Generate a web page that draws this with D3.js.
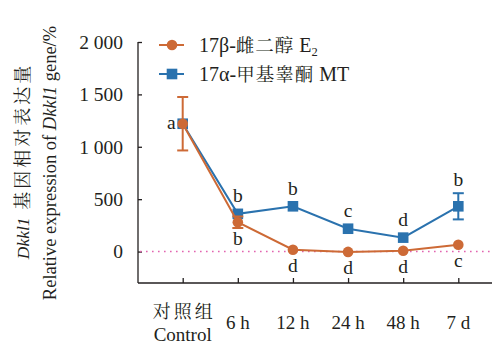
<!DOCTYPE html>
<html>
<head>
<meta charset="utf-8">
<script src="https://cdn.jsdelivr.net/npm/d3@7"></script>
<style>
  html, body { margin: 0; padding: 0; background: #fff; }
  svg { display: block; }
</style>
</head>
<body>
<svg id="chart" width="492" height="346"></svg>
<script>
// Time points after treatment
const categories = ["Control", "6 h", "12 h", "24 h", "48 h", "7 d"];
const yTicks = [0, 500, 1000, 1500, 2000];
const yTickLabels = ["0", "500", "1 000", "1 500", "2 000"];

// 17β-estradiol (E2) group: mean, error, significance letters
const e2Values = [1220, 280, 18, -3, 8, 65];
const e2Errors = [255, 55, 0, 0, 0, 0];
const e2Letters = ["a", "b", "d", "d", "d", "c"];

// 17α-methyltestosterone (MT) group
const mtValues = [1220, 360, 432, 218, 133, 432];
const mtErrors = [0, 0, 0, 0, 0, 125];
const mtLetters = ["", "b", "b", "c", "d", "b"];

const orange = "#cd6a36";
const blue = "#2a72ae";
const ink = "#231f20";
const LATIN = "'Liberation Serif', 'DejaVu Serif', serif";
const CJK = "'Noto Serif CJK SC', 'Noto Sans CJK SC', serif";

const svg = d3.select("#chart");
const plotLeft = 138, plotRight = 492, plotTop = 42, plotBottom = 283;

const x = d3.scalePoint().domain(categories).range([182.7, 458.3]);
const y = d3.scaleLinear().domain([-300, 2000]).range([plotBottom, plotTop]);

function txt(parent, size, family) {
  return parent.append("text").style("font-family", family || LATIN)
    .style("font-size", size + "px").style("fill", ink);
}

// Y axis with inward ticks
const yAxis = svg.append("g").attr("transform", `translate(${plotLeft},0)`)
  .call(d3.axisLeft(y).tickValues(yTicks).tickSizeInner(-4).tickSizeOuter(0).tickPadding(15)
    .tickFormat((d, i) => yTickLabels[i]));
yAxis.select(".domain").attr("d", `M0,${plotTop}V${plotBottom}`).attr("stroke", ink).attr("stroke-width", 1.3);
yAxis.selectAll(".tick line").attr("stroke", ink).attr("stroke-width", 1.3);
yAxis.selectAll(".tick text").style("font-family", LATIN).style("font-size", "19.5px").style("fill", ink);

// X axis with inward ticks
const xAxis = svg.append("g").attr("transform", `translate(0,${plotBottom})`)
  .call(d3.axisBottom(x).tickSizeInner(-5).tickSizeOuter(0).tickFormat(""));
xAxis.select(".domain").attr("d", `M${plotLeft},0H${plotRight}`).attr("stroke", ink).attr("stroke-width", 1.3);
xAxis.selectAll(".tick line").attr("stroke", ink).attr("stroke-width", 1.3);

// X tick labels
categories.forEach((c, i) => {
  if (i === 0) {
    txt(svg, 18, CJK).attr("x", x(c) + 1.5).attr("y", 318).attr("text-anchor", "middle")
      .style("letter-spacing", "3px").text("对照组");
    txt(svg, 19).attr("x", x(c)).attr("y", 341).attr("text-anchor", "middle").text("Control");
  } else {
    txt(svg, 19).attr("x", x(c)).attr("y", 329).attr("text-anchor", "middle").text(c);
  }
});

// Zero reference line
svg.append("line").attr("x1", plotLeft + 2).attr("x2", plotRight).attr("y1", y(0)).attr("y2", y(0))
  .attr("stroke", "#e264b0").attr("stroke-width", 1.6).attr("stroke-dasharray", "1.6,4.4");

const line = d3.line().x((d, i) => x(categories[i])).y(d => y(d));

function drawSeries(values, errors, color, shape) {
  const g = svg.append("g");
  g.append("path").datum(values).attr("d", line).attr("fill", "none")
    .attr("stroke", color).attr("stroke-width", 2);
  values.forEach((v, i) => {
    const cx = x(categories[i]);
    if (errors[i] > 0) {
      const y1 = y(v + errors[i]), y2 = y(v - errors[i]);
      g.append("line").attr("x1", cx).attr("x2", cx).attr("y1", y1).attr("y2", y2)
        .attr("stroke", color).attr("stroke-width", 2);
      [y1, y2].forEach(yy => g.append("line").attr("x1", cx - 5.5).attr("x2", cx + 5.5)
        .attr("y1", yy).attr("y2", yy).attr("stroke", color).attr("stroke-width", 2));
    }
    if (shape === "circle") {
      g.append("circle").attr("cx", cx).attr("cy", y(v)).attr("r", 5.3).attr("fill", color);
    } else {
      g.append("rect").attr("x", cx - 5.3).attr("y", y(v) - 5.3).attr("width", 10.6).attr("height", 10.6).attr("fill", color);
    }
  });
}

drawSeries(mtValues, mtErrors, blue, "rect");
drawSeries(e2Values, e2Errors, orange, "circle");

// Significance letters
txt(svg, 19.5).attr("x", x(categories[0]) - 7).attr("y", y(e2Values[0]) + 5)
  .attr("text-anchor", "end").text(e2Letters[0]);
categories.forEach((c, i) => {
  if (i === 0) return;
  const above = y(mtValues[i] + mtErrors[i]);
  txt(svg, 19.5).attr("x", x(c)).attr("y", above - (mtErrors[i] > 0 ? 7.5 : 11.5))
    .attr("text-anchor", "middle").text(mtLetters[i]);
  const below = y(e2Values[i] - e2Errors[i]);
  txt(svg, 19.5).attr("x", x(c)).attr("y", below + (e2Errors[i] > 0 ? 17.5 : 22))
    .attr("text-anchor", "middle").text(e2Letters[i]);
});

// Legend
const legend = [
  { color: orange, shape: "circle", y: 45, label: ["17β-", "雌二醇", " E", "2"] },
  { color: blue, shape: "rect", y: 74, label: ["17α-", "甲基睾酮", " MT", ""] }
];
legend.forEach(l => {
  svg.append("line").attr("x1", 159).attr("x2", 184).attr("y1", l.y).attr("y2", l.y)
    .attr("stroke", l.color).attr("stroke-width", 2);
  if (l.shape === "circle") svg.append("circle").attr("cx", 172).attr("cy", l.y).attr("r", 5.3).attr("fill", l.color);
  else svg.append("rect").attr("x", 166.7).attr("y", l.y - 5.3).attr("width", 10.6).attr("height", 10.6).attr("fill", l.color);
  const t = txt(svg, 20).attr("x", 199).attr("y", l.y + 6.5);
  t.append("tspan").text(l.label[0]);
  t.append("tspan").style("font-family", CJK).style("font-size", "18.5px").style("letter-spacing", "1px").text(l.label[1]);
  t.append("tspan").text(l.label[2]);
  if (l.label[3]) t.append("tspan").style("font-size", "12.5px").attr("dy", 4).text(l.label[3]);
});

// Y axis title (two lines)
const t1 = txt(svg, 17.5).attr("transform", "translate(29,161) rotate(-90)").attr("text-anchor", "middle");
t1.append("tspan").style("font-style", "italic").text("Dkkl1");
t1.append("tspan").style("font-family", CJK).style("font-size", "18px").style("letter-spacing", "3px")
  .text(" 基因相对表达量");
const t2 = txt(svg, 18.5).attr("transform", "translate(56,163) rotate(-90)").attr("text-anchor", "middle");
t2.append("tspan").text("Relative expression of ");
t2.append("tspan").style("font-style", "italic").text("Dkkl1");
t2.append("tspan").text(" gene/%");
</script>
</body>
</html>
